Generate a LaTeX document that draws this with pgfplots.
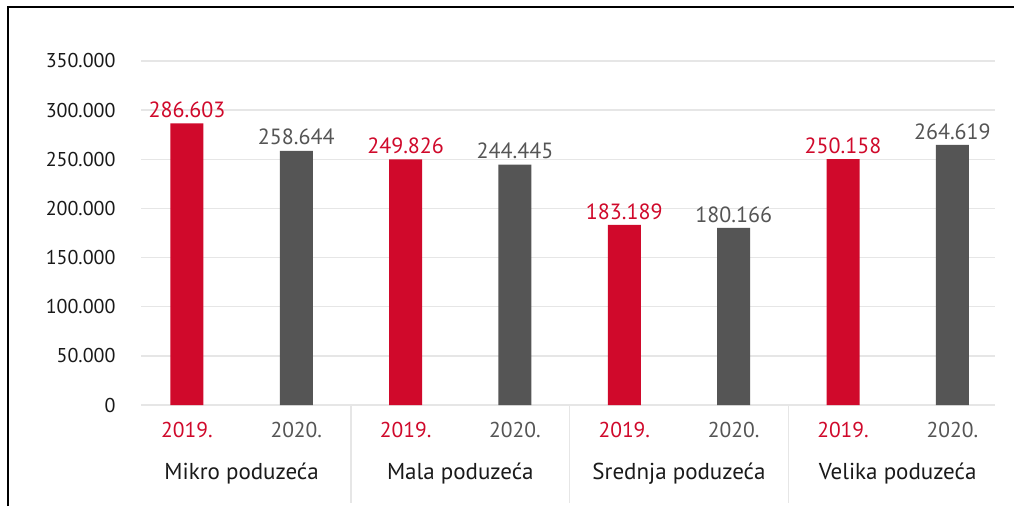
\documentclass[border=0pt]{standalone}
\usepackage{fontspec}
\setmainfont{PT Sans}
\usepackage{pgfplots}
\pgfplotsset{compat=1.18}
\definecolor{cred}{HTML}{D0092B}
\definecolor{cgray}{HTML}{555555}
\definecolor{cgrid}{HTML}{E6E6E6}
\definecolor{ctext}{HTML}{1A1A1A}
\begin{document}
\begin{tikzpicture}[x=1pt,y=1pt]
\useasboundingbox (0,0) rectangle (1014,506);
\fill[white] (0,0) rectangle (1014,506);
\draw[line width=2.5pt] (8,0) -- (8,499) -- (1014,499);
\begin{axis}[
  at={(141pt,101pt)}, anchor=south west,
  scale only axis, width=854pt, height=344pt,
  xmin=-0.42, xmax=7.39, ymin=0, ymax=350000,
  ytick={0,50000,100000,150000,200000,250000,300000,350000},
  scaled y ticks=false,
  ymajorgrids, grid style={cgrid, line width=1.3pt},
  major tick length=0pt,
  axis line style={draw=none},
  yticklabel style={/pgf/number format/fixed, /pgf/number format/1000 sep={.}, /pgf/number format/assume math mode=true,
     font=\fontsize{20}{24}\selectfont, text=ctext, xshift=-22pt},
  xtick={0,1,2,3,4,5,6,7},
  xticklabels={\textcolor{cred}{2019.},\textcolor{cgray}{2020.},\textcolor{cred}{2019.},\textcolor{cgray}{2020.},\textcolor{cred}{2019.},\textcolor{cgray}{2020.},\textcolor{cred}{2019.},\textcolor{cgray}{2020.}},
  xticklabel style={font=\fontsize{21.5}{24}\selectfont, yshift=-14pt},
  clip=false,
]
\addplot[ybar, bar width=33pt, bar shift=0pt, fill=cred, draw=none,
  nodes near coords, point meta=explicit symbolic,
  nodes near coords style={text=cred, font=\fontsize{22}{24}\selectfont, anchor=south, yshift=2pt}]
  coordinates {(0,286603)[286.603] (2,249826)[249.826] (4,183189)[183.189] (6,250158)[250.158]};
\addplot[ybar, bar width=33pt, bar shift=0pt, fill=cgray, draw=none,
  nodes near coords, point meta=explicit symbolic,
  nodes near coords style={text=cgray, font=\fontsize{22}{24}\selectfont, anchor=south, yshift=2pt}]
  coordinates {(1,258644)[258.644] (3,244445)[244.445] (5,180166)[180.166] (7,264619)[264.619]};
\draw[cgrid, line width=1.3pt] (axis cs:1.5,0) -- ++(0pt,-98pt);
\draw[cgrid, line width=1.3pt] (axis cs:3.5,0) -- ++(0pt,-98pt);
\draw[cgrid, line width=1.3pt] (axis cs:5.5,0) -- ++(0pt,-98pt);
\node[font=\fontsize{23}{26}\selectfont, text=ctext] at (axis cs:0.5,0) [yshift=-69pt] {Mikro poduzeća};
\node[font=\fontsize{23}{26}\selectfont, text=ctext] at (axis cs:2.5,0) [yshift=-69pt] {Mala poduzeća};
\node[font=\fontsize{23}{26}\selectfont, text=ctext] at (axis cs:4.5,0) [yshift=-69pt] {Srednja poduzeća};
\node[font=\fontsize{23}{26}\selectfont, text=ctext] at (axis cs:6.5,0) [yshift=-69pt] {Velika poduzeća};
\end{axis}
\end{tikzpicture}
\end{document}
